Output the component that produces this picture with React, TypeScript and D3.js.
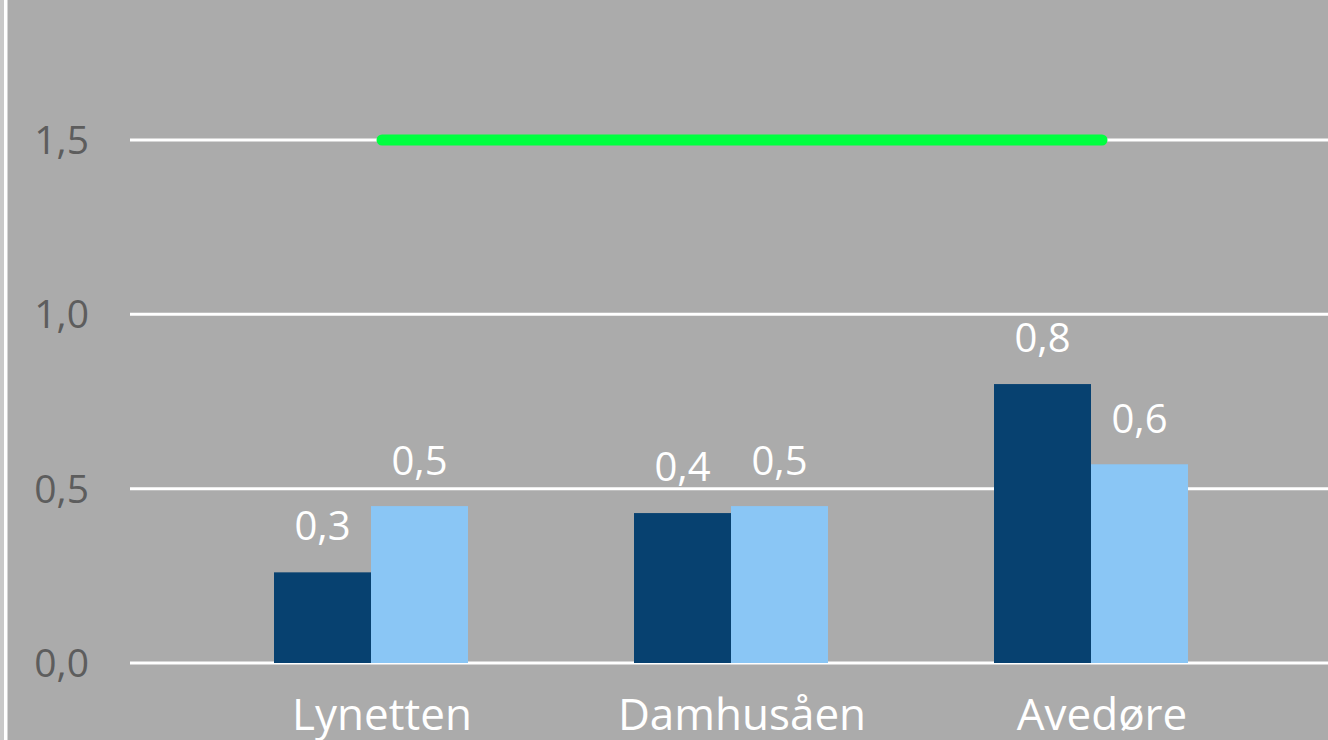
import React from "react";
import * as d3 from "d3";

const categories = ["Lynetten", "Damhusåen", "Avedøre"];
const series1 = [0.26, 0.43, 0.8];
const series2 = [0.45, 0.45, 0.57];
const labels1 = ["0,3", "0,4", "0,8"];
const labels2 = ["0,5", "0,5", "0,6"];
const limitValue = 1.5;
const yTicks = [0, 0.5, 1.0, 1.5];
const yTickLabels = ["0,0", "0,5", "1,0", "1,5"];

const W = 1328;
const H = 740;

export default function App() {
  const x = d3.scaleBand<string>().domain(categories).range([202, 1282]).padding(0);
  const y = d3.scaleLinear().domain([0, 1.5]).range([663, 140]);
  const barW = 97;
  const shift = -11;
  const font = "'Open Sans', 'Liberation Sans', sans-serif";
  const center = (c: string) => (x(c) as number) + x.bandwidth() / 2;
  const line = d3
    .line<number>()
    .x((_, i) => center(categories[i]))
    .y((d) => y(d));
  const limitData = categories.map(() => limitValue);

  return (
    <div style={{ position: "absolute", left: 0, top: 0 }}>
      <svg width={W} height={H} style={{ display: "block" }}>
        <rect x={0} y={0} width={W} height={H} fill="#ababab" />
        <rect x={0} y={0} width={4} height={H} fill="#c9c9c9" />
        <rect x={4} y={0} width={3.5} height={H} fill="#ffffff" />
        {yTicks.map((t, i) => (
          <g key={t}>
            <line x1={130} x2={W} y1={y(t)} y2={y(t)} stroke="#ffffff" strokeWidth={3} />
            <text
              x={89}
              y={y(t) + 14}
              textAnchor="end"
              fontFamily={font}
              fontSize={39}
              fill="#5d5d5d"
            >
              {yTickLabels[i]}
            </text>
          </g>
        ))}
        {categories.map((c, i) => {
          const cx = center(c) + shift;
          return (
            <g key={c}>
              <rect x={cx - barW} y={y(series1[i])} width={barW} height={y(0) - y(series1[i])} fill="#074170" />
              <rect x={cx} y={y(series2[i])} width={barW} height={y(0) - y(series2[i])} fill="#8ac6f5" />
              <text x={cx - barW / 2} y={y(series1[i]) - 32} textAnchor="middle" fontFamily={font} fontSize={40} fill="#ffffff">
                {labels1[i]}
              </text>
              <text x={cx + barW / 2} y={y(series2[i]) - 31} textAnchor="middle" fontFamily={font} fontSize={40} fill="#ffffff">
                {labels2[i]}
              </text>
              <text x={center(c)} y={730} textAnchor="middle" fontFamily={font} fontSize={44} fill="#ffffff">
                {c}
              </text>
            </g>
          );
        })}
        <path d={line(limitData) || ""} fill="none" stroke="#00ff40" strokeWidth={11} strokeLinecap="round" />
      </svg>
    </div>
  );
}
